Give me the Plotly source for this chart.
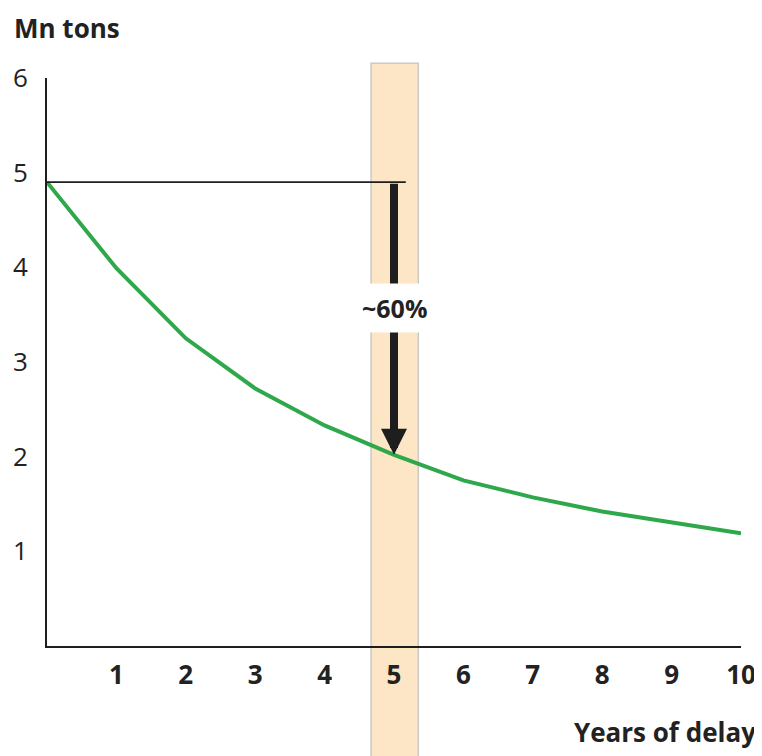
import plotly.graph_objects as go

years = [0, 1, 2, 3, 4, 5, 6, 7, 8, 9, 10]
mn_tons = [4.90, 3.99, 3.25, 2.72, 2.33, 2.02, 1.75, 1.57, 1.42, 1.30, 1.19]
x_ticks = [1, 2, 3, 4, 5, 6, 7, 8, 9, 10]
y_ticks = [1, 2, 3, 4, 5, 6]
highlight_year = 5
band = [4.67, 5.35]
ref_line_end = 5.17
label_text = "~60%"
label_y = 3.57

FONT = "Open Sans"
green = "#2EA84B"
ink = "#222222"

fig = go.Figure()

fig.add_trace(go.Scatter(
    x=years, y=mn_tons, mode="lines",
    line=dict(color=green, width=4),
    hoverinfo="skip", showlegend=False,
))

# highlight band
fig.add_shape(type="rect", xref="x", yref="paper",
              x0=band[0], x1=band[1], y0=-0.25, y1=1.026,
              fillcolor="#FDE6C6", line=dict(color="#C9C9C9", width=1.5),
              layer="below")

# reference horizontal line
fig.add_shape(type="line", xref="x", yref="y",
              x0=years[0], x1=ref_line_end, y0=mn_tons[0], y1=mn_tons[0],
              line=dict(color="#1E1E1E", width=1.8))

# arrow
fig.add_annotation(
    x=highlight_year, y=mn_tons[years.index(highlight_year)],
    ax=highlight_year, ay=mn_tons[0], axref="x", ayref="y",
    xref="x", yref="y", text="", showarrow=True,
    arrowhead=2, arrowsize=0.65, arrowwidth=8, arrowcolor="#1E1E1E",
    standoff=0, startstandoff=0,
)

# label
fig.add_annotation(
    x=highlight_year, y=label_y, xref="x", yref="y",
    text="<b>" + label_text + "</b>", showarrow=False,
    font=dict(family=FONT, size=25, color=ink),
    bgcolor="white", borderpad=7,
)

fig.add_annotation(
    x=0, y=1, xref="paper", yref="paper", xshift=-35, yshift=70,
    text="<b>Mn tons</b>", showarrow=False, xanchor="left", yanchor="top",
    font=dict(family=FONT, size=26, color=ink),
)

fig.add_annotation(
    x=1, y=0, xref="paper", yref="paper", xshift=17, yshift=-86,
    text="<b>Years of delay</b>", showarrow=False, xanchor="right", yanchor="middle",
    font=dict(family=FONT, size=26, color=ink),
)

fig.update_layout(
    width=754, height=748,
    margin=dict(l=39, r=21, t=70, b=110),
    paper_bgcolor="white", plot_bgcolor="rgba(0,0,0,0)",
    font=dict(family=FONT, color=ink),
    xaxis=dict(range=[0, 10], tickvals=x_ticks,
               ticktext=["<b>%d</b>" % v for v in x_ticks],
               showgrid=False, zeroline=False, showline=True,
               linecolor="#1E1E1E", linewidth=2, ticks="",
               tickfont=dict(family=FONT, size=26, color=ink),
               ticklabelstandoff=5, automargin=False),
    yaxis=dict(range=[0, 6], tickvals=y_ticks,
               showgrid=False, zeroline=False, showline=True,
               linecolor="#1E1E1E", linewidth=2, ticks="",
               tickfont=dict(family=FONT, size=26, color=ink),
               ticklabelstandoff=12, automargin=False),
)

fig.write_html("out.html")
